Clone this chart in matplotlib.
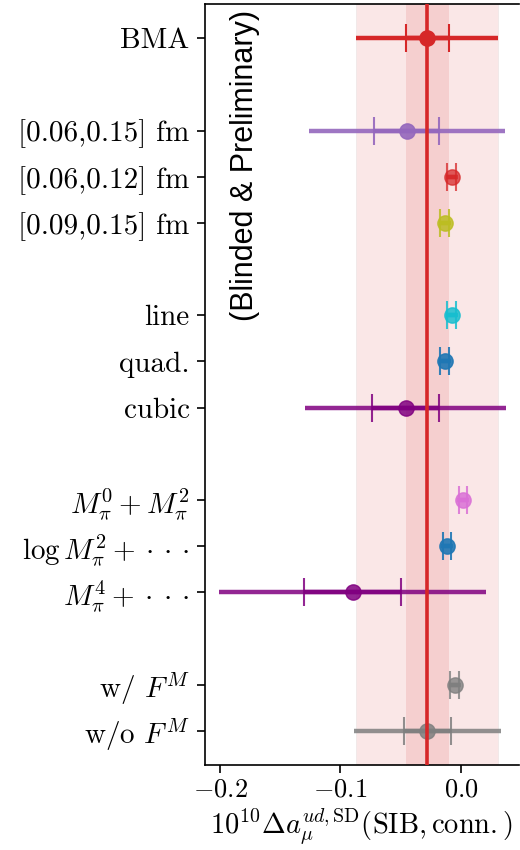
import matplotlib
matplotlib.use("Agg")
import matplotlib.pyplot as plt

plt.rcParams['font.family'] = 'serif'
plt.rcParams['font.serif'] = ['cmr10', 'DejaVu Serif']
plt.rcParams['mathtext.fontset'] = 'cm'
plt.rcParams['axes.formatter.use_mathtext'] = True

# ---- data ----
group_labels = [
    ['BMA'],
    ['[0.06,0.15] fm', '[0.06,0.12] fm', '[0.09,0.15] fm'],
    ['line', 'quad.', 'cubic'],
    [r'$M_\pi^0 + M_\pi^2$', r'$\log M_\pi^2 + \cdot\cdot\cdot$',
     r'$M_\pi^4 + \cdot\cdot\cdot$'],
    [r'w/ $F^M$', r'w/o $F^M$'],
]
values = [-0.028, -0.045, -0.0075, -0.0133, -0.0075, -0.0133, -0.046,
          0.0017, -0.0116, -0.090, -0.005, -0.028]
total_err = [0.059, 0.0815, 0.005, 0.005, 0.005, 0.005, 0.0835,
             0.005, 0.005, 0.1105, 0.005, 0.061]
stat_err = [0.018, 0.027, 0.0037, 0.0037, 0.0037, 0.0037, 0.0275,
            0.0037, 0.0037, 0.0405, 0.0037, 0.0195]
colors = ['#d62728', '#9467bd', '#d62728', '#bcbd22', '#17becf', '#1f77b4',
          '#800080', '#da70d6', '#1f77b4', '#800080', '#7f7f7f', '#7f7f7f']
alphas = [1.0, 0.9, 0.75, 0.85, 0.85, 0.9, 0.85, 0.85, 0.9, 0.85, 0.8, 0.85]

bma_value = -0.028
bma_total = 0.059
bma_stat = 0.018

# ---- layout: positions with a gap between groups ----
labels, ypos = [], []
pos = 0
for g in group_labels:
    for lab in g:
        labels.append(lab)
        ypos.append(pos)
        pos += 1
    pos += 1

fig = plt.figure(figsize=(5.2, 8.5), dpi=100)
ax = fig.add_axes([0.394, 0.1, 0.6037, 0.8953])

ax.axvspan(bma_value - bma_total, bma_value + bma_total, facecolor='#d62728',
           alpha=0.11, edgecolor='#888888', lw=0.6, zorder=0)
ax.axvspan(bma_value - bma_stat, bma_value + bma_stat, facecolor='#d62728',
           alpha=0.12, lw=0, zorder=0)

for x, y, te, se, c, a in zip(values, ypos, total_err, stat_err, colors, alphas):
    ax.errorbar(x, y, xerr=te, fmt='o', color=c, ms=11, lw=3.2, capsize=0,
                alpha=a, zorder=2)
    ax.errorbar(x, y, xerr=se, fmt='none', ecolor=c, elinewidth=3.2,
                capsize=10, capthick=1.5, alpha=a, zorder=2)

ax.axvline(bma_value, color='#d62728', lw=2.6, zorder=3)

ax.set_yticks(ypos)
ax.set_yticklabels(labels)
ax.set_ylim(15.74, -0.74)
ax.set_xlim(-0.2125, 0.048)
ax.set_xticks([-0.2, -0.1, 0.0])
ax.tick_params(axis='both', direction='out', length=6, width=1.2)
ax.tick_params(axis='y', labelsize=21, pad=5)
ax.tick_params(axis='x', labelsize=19)
ax.spines['right'].set_visible(False)
for s in ['left', 'top', 'bottom']:
    ax.spines[s].set_linewidth(1.2)

ax.set_xlabel(r'$10^{10}\Delta a_\mu^{ud,\mathrm{SD}}(\mathrm{SIB},\mathrm{conn.})$',
              fontsize=20.5, labelpad=3)

ax.text(-0.179, 2.75, '(Blinded & Preliminary)', rotation=90, ha='center',
        va='center', fontsize=22, family=['Liberation Sans', 'DejaVu Sans'])

fig.savefig('out.png', dpi=100)
